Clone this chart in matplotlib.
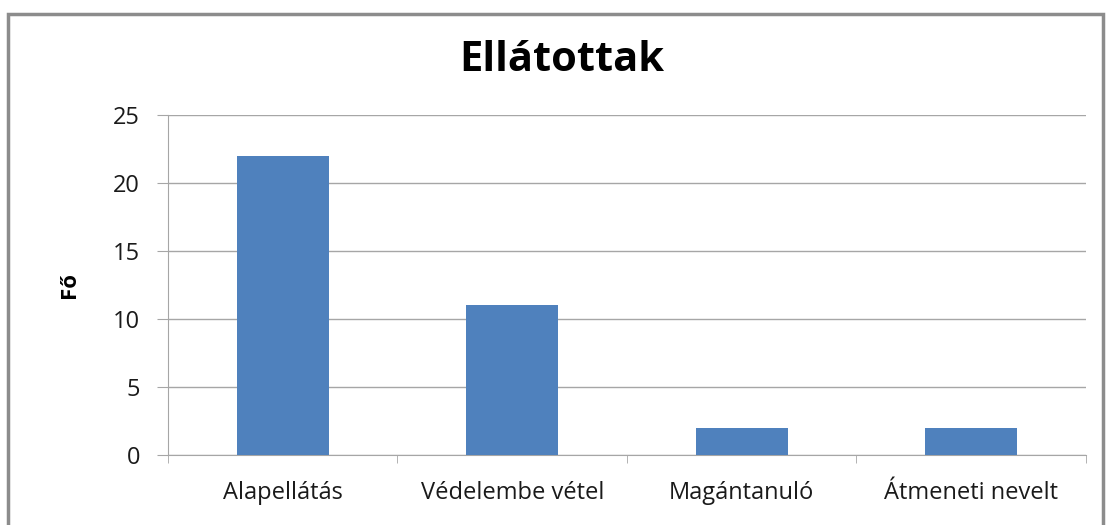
import matplotlib
matplotlib.use("Agg")
import matplotlib.pyplot as plt
from matplotlib.patches import Rectangle

kategoriak = ["Alapellátás", "Védelembe vétel", "Magántanuló", "Átmeneti nevelt"]
ertekek = [22, 11, 2, 2]
y_ticks = [0, 5, 10, 15, 20, 25]

plt.rcParams['font.family'] = ['Open Sans', 'DejaVu Sans']

fig = plt.figure(figsize=(11.06, 5.25), dpi=100)
ax = fig.add_axes([0.1519, 0.1333, 0.830, 0.6476])

# keret a diagram korul
fig.patches.append(Rectangle((8/1106, -0.05), 1095/1106, 1 - 14/525 + 0.05,
                             transform=fig.transFigure, fill=False,
                             edgecolor="#8c8c8c", linewidth=2.5))

x = range(len(kategoriak))
ax.bar(x, ertekek, width=0.4, color="#4F81BD", zorder=3)

ax.set_xlim(-0.5, len(kategoriak) - 0.5)
ax.set_ylim(0, 25)
ax.set_yticks(y_ticks)
ax.yaxis.grid(True, color="#a6a6a6", linewidth=1)
ax.set_axisbelow(True)

ax.set_xticks(list(x))
ax.set_xticklabels(kategoriak, fontsize=17, color="#1a1a1a")
ax.set_xticks([i - 0.5 for i in range(len(kategoriak) + 1)], minor=True)
ax.tick_params(axis="x", which="major", length=0, pad=19)
ax.tick_params(axis="x", which="minor", length=6, color="#a6a6a6", direction="out")
ax.tick_params(axis="y", length=8, color="#a6a6a6", pad=12, labelsize=17, labelcolor="#1a1a1a")

for s in ["top", "right"]:
    ax.spines[s].set_visible(False)
for s in ["left", "bottom"]:
    ax.spines[s].set_color("#a6a6a6")

ax.set_ylabel("Fő", fontsize=16, fontweight="bold")
ax.yaxis.set_label_coords(-88/918, 0.5)
fig.text(0.508, 0.885, "Ellátottak", ha="center", va="center", fontsize=30, fontweight="bold")

plt.savefig("out.png", dpi=100)
